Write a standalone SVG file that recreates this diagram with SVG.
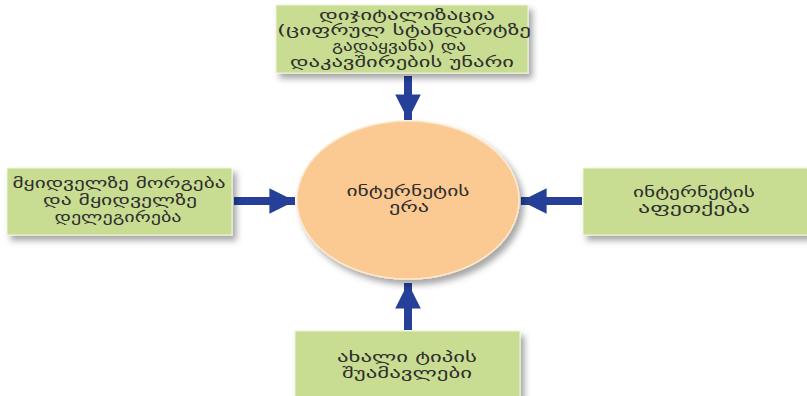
<svg xmlns="http://www.w3.org/2000/svg" width="807" height="396" viewBox="0 0 807 396">
  <defs>
    <filter id="shadow" x="-10%" y="-20%" width="125%" height="150%">
      <feDropShadow dx="4" dy="5" stdDeviation="3" flood-color="#000" flood-opacity="0.35"/>
    </filter>
    <marker id="head" viewBox="0 0 10 10" refX="10" refY="5" markerWidth="3.2" markerHeight="3.2" markerUnits="strokeWidth" orient="auto">
      <path d="M0,0 L10,5 L0,10 z" fill="#26409a"/>
    </marker>
  </defs>
  <style>
    .box { fill: #c9dd92; stroke: #eef5dc; stroke-width: 1; filter: url(#shadow); }
    .hub { fill: #fbc992; stroke: #fde7cc; stroke-width: 1.5; filter: url(#shadow); }
    .lbl { font-family: "DejaVu Sans", "Noto Sans", sans-serif; font-size: 14.5px; fill: #2e2e2e; text-anchor: middle; }
    .link { stroke: #26409a; stroke-width: 8; fill: none; marker-end: url(#head); }
  </style>
  <rect width="807" height="396" fill="#ffffff"/>

  <g id="connectors">
    <line class="link" x1="408" y1="76" x2="408" y2="120"/>
    <line class="link" x1="234" y1="201" x2="295" y2="201"/>
    <line class="link" x1="582" y1="201" x2="521" y2="201"/>
    <line class="link" x1="408" y1="330" x2="408" y2="283"/>
  </g>

  <g id="hub">
    <ellipse class="hub" cx="408" cy="200" rx="111" ry="79"/>
    <text class="lbl" x="408" y="196" textLength="123" lengthAdjust="spacingAndGlyphs">ინტერნეტის</text>
    <text class="lbl" x="409" y="212" textLength="40" lengthAdjust="spacingAndGlyphs">ერა</text>
  </g>

  <g id="top">
    <rect class="box" x="276" y="5" width="252" height="68"/>
    <text class="lbl" x="407" y="20" textLength="176" lengthAdjust="spacingAndGlyphs">დიჯიტალიზაცია</text>
    <text class="lbl" x="404" y="35" textLength="254" lengthAdjust="spacingAndGlyphs">(ციფრულ სტანდარტზე</text>
    <text class="lbl" x="399" y="51" textLength="134" lengthAdjust="spacingAndGlyphs">გადაყვანა) და</text>
    <text class="lbl" x="402" y="67" textLength="224" lengthAdjust="spacingAndGlyphs">დაკავშირების უნარი</text>
  </g>

  <g id="left">
    <rect class="box" x="7" y="168" width="225" height="67"/>
    <text class="lbl" x="119" y="188" textLength="213" lengthAdjust="spacingAndGlyphs">მყიდველზე მორგება</text>
    <text class="lbl" x="120" y="205" textLength="154" lengthAdjust="spacingAndGlyphs">და მყიდველზე</text>
    <text class="lbl" x="118" y="222" textLength="127" lengthAdjust="spacingAndGlyphs">დელეგირება</text>
  </g>

  <g id="right">
    <rect class="box" x="583" y="168" width="230" height="67"/>
    <text class="lbl" x="694" y="197" textLength="122" lengthAdjust="spacingAndGlyphs">ინტერნეტის</text>
    <text class="lbl" x="694" y="213" textLength="112" lengthAdjust="spacingAndGlyphs">აფეთქება</text>
  </g>

  <g id="bottom">
    <rect class="box" x="295" y="331" width="225" height="70"/>
    <text class="lbl" x="407" y="362" textLength="140" lengthAdjust="spacingAndGlyphs">ახალი ტიპის</text>
    <text class="lbl" x="407" y="378" textLength="130" lengthAdjust="spacingAndGlyphs">შუამავლები</text>
  </g>
</svg>
